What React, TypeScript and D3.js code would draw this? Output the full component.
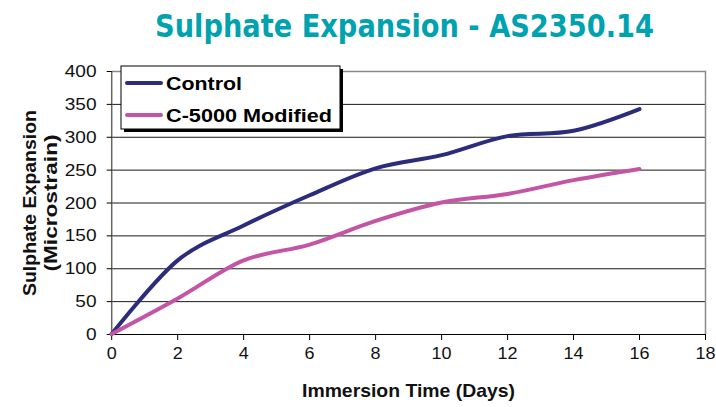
import React, { useRef, useEffect } from 'react';
import * as d3 from 'd3';

const days = [0, 2, 4, 6, 8, 10, 12, 14, 16];
const control = [0, 112, 165, 211, 252, 272, 301, 309, 342];
const modified = [0, 54, 112, 136, 172, 200, 213, 234, 251];
const xTicks = [0, 2, 4, 6, 8, 10, 12, 14, 16, 18];
const yTicks = [0, 50, 100, 150, 200, 250, 300, 350, 400];

const series = [
  { name: 'Control', values: control, color: '#2b2c7c' },
  { name: 'C-5000 Modified', values: modified, color: '#c455a6' },
];

export default function App() {
  const svgRef = useRef<SVGSVGElement>(null);

  useEffect(() => {
    const svg = d3.select(svgRef.current);
    svg.selectAll('*').remove();

    const x = d3.scaleLinear().domain([0, 18]).range([111.7, 705.5]);
    const y = d3.scaleLinear().domain([0, 400]).range([334, 71]);
    const font = '"Liberation Sans", Arial, sans-serif';

    // title (scaled vertically to get the tall, heavy look)
    svg.append('g')
      .attr('transform', 'translate(404.5,37) scale(1,1.2)')
      .append('text')
      .attr('x', 0).attr('y', 0)
      .attr('text-anchor', 'middle')
      .attr('textLength', 499).attr('lengthAdjust', 'spacingAndGlyphs')
      .attr('font-family', '"DejaVu Sans", sans-serif')
      .attr('font-weight', 'bold').attr('font-size', 27)
      .attr('fill', '#00a2b0')
      .text('Sulphate Expansion - AS2350.14');

    // gridlines
    svg.append('g').selectAll('line')
      .data(yTicks.filter(t => t > 0 && t < 400))
      .join('line')
      .attr('x1', x(0)).attr('x2', x(18))
      .attr('y1', d => y(d) + 0.5).attr('y2', d => y(d) + 0.5)
      .attr('stroke', '#1a1a1a').attr('stroke-width', 1);

    // plot border (top & right)
    svg.append('path')
      .attr('d', `M${x(0)},${y(400) + 0.5}H${x(18)}V${y(0)}`)
      .attr('fill', 'none').attr('stroke', '#8a8a8a').attr('stroke-width', 1.5);

    // axes
    svg.append('line')
      .attr('x1', x(0)).attr('x2', x(0)).attr('y1', y(400)).attr('y2', y(0))
      .attr('stroke', '#666').attr('stroke-width', 1.5);
    svg.append('line')
      .attr('x1', x(0)).attr('x2', x(18)).attr('y1', y(0) + 0.5).attr('y2', y(0) + 0.5)
      .attr('stroke', '#000').attr('stroke-width', 1.2);

    // y ticks & labels
    const yg = svg.append('g');
    yTicks.forEach(t => {
      yg.append('line')
        .attr('x1', x(0) - 5).attr('x2', x(0))
        .attr('y1', y(t) + 0.5).attr('y2', y(t) + 0.5)
        .attr('stroke', '#000');
      const s = String(t);
      yg.append('text')
        .attr('x', 96.5).attr('y', y(t) + 6)
        .attr('text-anchor', 'end')
        .attr('textLength', s.length * 10.6).attr('lengthAdjust', 'spacingAndGlyphs')
        .attr('font-family', font).attr('font-size', 17)
        .attr('fill', '#111')
        .text(s);
    });

    // x ticks & labels
    const xg = svg.append('g');
    xTicks.forEach(t => {
      xg.append('line')
        .attr('x1', x(t)).attr('x2', x(t))
        .attr('y1', y(0)).attr('y2', y(0) + 6)
        .attr('stroke', '#000');
      const s = String(t);
      xg.append('text')
        .attr('x', x(t)).attr('y', 359)
        .attr('text-anchor', 'middle')
        .attr('textLength', s.length * 10).attr('lengthAdjust', 'spacingAndGlyphs')
        .attr('font-family', font).attr('font-size', 16.5)
        .attr('fill', '#111')
        .text(s);
    });

    // axis titles
    svg.append('text')
      .attr('x', 302).attr('y', 396.5)
      .attr('textLength', 213).attr('lengthAdjust', 'spacingAndGlyphs')
      .attr('font-family', font).attr('font-weight', 'bold').attr('font-size', 19)
      .attr('fill', '#111')
      .text('Immersion Time (Days)');

    const yt = svg.append('g').attr('transform', 'translate(0,203) rotate(-90)');
    yt.append('text')
      .attr('x', 0).attr('y', 35.5)
      .attr('text-anchor', 'middle')
      .attr('textLength', 186).attr('lengthAdjust', 'spacingAndGlyphs')
      .attr('font-family', font).attr('font-weight', 'bold').attr('font-size', 19)
      .attr('fill', '#111')
      .text('Sulphate Expansion');
    yt.append('text')
      .attr('x', 0).attr('y', 57)
      .attr('text-anchor', 'middle')
      .attr('textLength', 137).attr('lengthAdjust', 'spacingAndGlyphs')
      .attr('font-family', font).attr('font-weight', 'bold').attr('font-size', 19)
      .attr('fill', '#111')
      .text('(Microstrain)');

    // lines
    const line = d3.line<number>()
      .x((_, i) => x(days[i]))
      .y(d => y(d))
      .curve(d3.curveCardinal.tension(0));

    series.forEach(s => {
      svg.append('path')
        .attr('d', line(s.values))
        .attr('fill', 'none')
        .attr('stroke', s.color)
        .attr('stroke-width', 4)
        .attr('stroke-linecap', 'round')
        .attr('stroke-linejoin', 'round');
    });

    // legend
    const lg = svg.append('g');
    lg.append('rect')
      .attr('x', 124).attr('y', 69).attr('width', 219).attr('height', 63)
      .attr('fill', '#000');
    lg.append('rect')
      .attr('x', 121).attr('y', 66).attr('width', 219).attr('height', 63)
      .attr('fill', '#fff').attr('stroke', '#000').attr('stroke-width', 1);
    const legendY = [83, 115];
    const legendW = [76, 166];
    series.forEach((s, i) => {
      lg.append('line')
        .attr('x1', 127).attr('x2', 161)
        .attr('y1', legendY[i]).attr('y2', legendY[i])
        .attr('stroke', s.color).attr('stroke-width', 4)
        .attr('stroke-linecap', 'round');
      lg.append('text')
        .attr('x', 166).attr('y', legendY[i] + 7)
        .attr('textLength', legendW[i]).attr('lengthAdjust', 'spacingAndGlyphs')
        .attr('font-family', font).attr('font-weight', 'bold').attr('font-size', 19)
        .attr('fill', '#000')
        .text(s.name);
    });
  }, []);

  return (
    <div style={{ position: 'fixed', left: 0, top: 0, background: '#fff' }}>
      <svg ref={svgRef} width={716} height={407} style={{ display: 'block' }} />
    </div>
  );
}
